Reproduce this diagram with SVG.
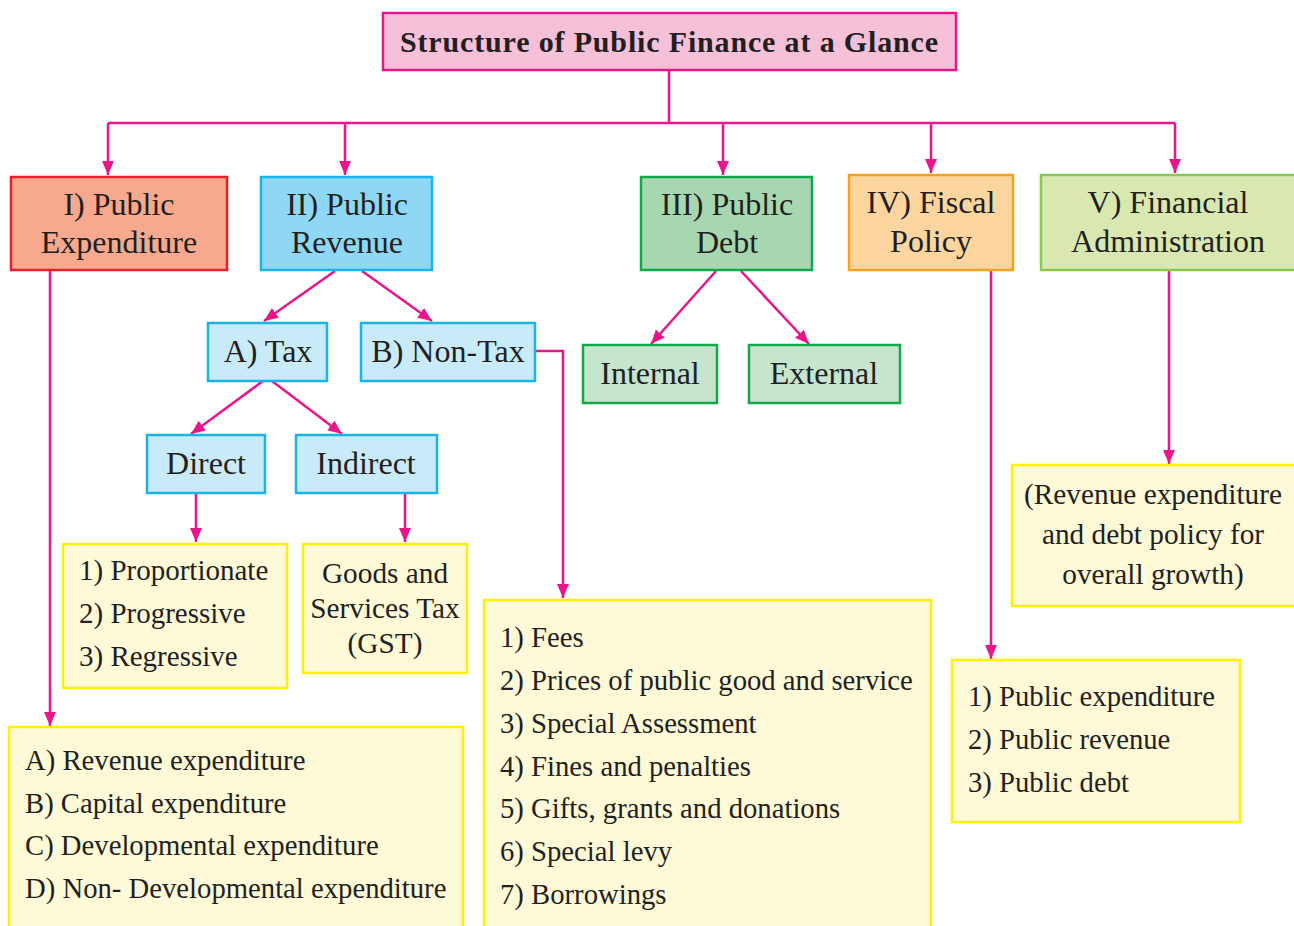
<svg xmlns="http://www.w3.org/2000/svg" width="1294" height="926" viewBox="0 0 1294 926">
<defs>
<marker id="ah" markerUnits="userSpaceOnUse" markerWidth="14" markerHeight="14" refX="14" refY="6" orient="auto">
<path d="M0,0 L14,6 L0,12 z" fill="#e8168a"/>
</marker>
<style>
text{font-family:"Liberation Serif","Times New Roman",serif;fill:#231f20}
.h{font-size:32px;text-anchor:middle}
.l{font-size:28.7px}
.c{font-size:29.3px;text-anchor:middle}
.t{font-size:30px;font-weight:bold;text-anchor:middle}
.conn line,.conn polyline,.conn path{stroke:#e8168a;stroke-width:2.5;fill:none}
.box{stroke-width:2.5}
.y{fill:#fef9d7;stroke:#fff200}
.lb{fill:#c8eaf9;stroke:#19b4ea}
.lg{fill:#c5e5cf;stroke:#12a84a}
</style>
</defs>
<rect width="1294" height="926" fill="#ffffff"/>

<g id="connectors" class="conn">
<line x1="669" y1="70" x2="669" y2="123"/>
<line x1="108" y1="123" x2="1175" y2="123"/>
<line x1="108" y1="123" x2="108" y2="175" marker-end="url(#ah)"/>
<line x1="345" y1="123" x2="345" y2="175" marker-end="url(#ah)"/>
<line x1="723" y1="123" x2="723" y2="175" marker-end="url(#ah)"/>
<line x1="931" y1="123" x2="931" y2="173" marker-end="url(#ah)"/>
<line x1="1175" y1="123" x2="1175" y2="173" marker-end="url(#ah)"/>
<line x1="335" y1="271" x2="264" y2="321" marker-end="url(#ah)"/>
<line x1="362" y1="271" x2="432" y2="321" marker-end="url(#ah)"/>
<line x1="263" y1="381" x2="191" y2="434" marker-end="url(#ah)"/>
<line x1="272" y1="381" x2="342" y2="434" marker-end="url(#ah)"/>
<line x1="716" y1="271" x2="651" y2="344" marker-end="url(#ah)"/>
<line x1="741" y1="271" x2="809" y2="344" marker-end="url(#ah)"/>
<line x1="196" y1="493" x2="196" y2="542" marker-end="url(#ah)"/>
<line x1="405" y1="493" x2="405" y2="542" marker-end="url(#ah)"/>
<polyline points="535,351 563,351 563,598" marker-end="url(#ah)"/>
<line x1="50" y1="270" x2="50" y2="726" marker-end="url(#ah)"/>
<line x1="991" y1="270" x2="991" y2="659" marker-end="url(#ah)"/>
<line x1="1169" y1="270" x2="1169" y2="464" marker-end="url(#ah)"/>
</g>

<g id="title">
<rect class="box" x="383" y="13" width="573" height="57" fill="#f7c0d9" stroke="#e8168a"/>
<text class="t" x="669" y="52" textLength="538">Structure of Public Finance at a Glance</text>
</g>

<g id="expenditure">
<rect class="box" x="11" y="177" width="216" height="93" fill="#f7a98e" stroke="#e8202a"/>
<text class="h" x="119" y="215">I) Public</text>
<text class="h" x="119" y="253">Expenditure</text>
</g>

<g id="revenue">
<rect class="box" x="261" y="177" width="171" height="93" fill="#8ed8f6" stroke="#19b4ea"/>
<text class="h" x="347" y="215">II) Public</text>
<text class="h" x="347" y="253">Revenue</text>
</g>

<g id="debt">
<rect class="box" x="641" y="177" width="171" height="93" fill="#a7d7b0" stroke="#12a84a"/>
<text class="h" x="727" y="215">III) Public</text>
<text class="h" x="727" y="253">Debt</text>
</g>

<g id="fiscal">
<rect class="box" x="849" y="175" width="164" height="95" fill="#fdd59e" stroke="#f7a21b"/>
<text class="h" x="931" y="213">IV) Fiscal</text>
<text class="h" x="931" y="252">Policy</text>
</g>

<g id="admin">
<rect class="box" x="1041" y="175" width="260" height="95" fill="#d9e8b0" stroke="#8cc850"/>
<text class="h" x="1168" y="213">V) Financial</text>
<text class="h" x="1168" y="252">Administration</text>
</g>

<g id="tax">
<rect class="box lb" x="208" y="323" width="119" height="58"/>
<text class="h" x="268" y="362">A) Tax</text>
</g>

<g id="nontax">
<rect class="box lb" x="361" y="323" width="174" height="58"/>
<text class="h" x="448" y="362">B) Non-Tax</text>
</g>

<g id="direct">
<rect class="box lb" x="147" y="435" width="118" height="58"/>
<text class="h" x="206" y="474">Direct</text>
</g>

<g id="indirect">
<rect class="box lb" x="296" y="435" width="141" height="58"/>
<text class="h" x="366" y="474">Indirect</text>
</g>

<g id="internal">
<rect class="box lg" x="583" y="345" width="134" height="58"/>
<text class="h" x="650" y="384">Internal</text>
</g>

<g id="external">
<rect class="box lg" x="749" y="345" width="151" height="58"/>
<text class="h" x="824" y="384">External</text>
</g>

<g id="direct-list">
<rect class="box y" x="63" y="544" width="224" height="144"/>
<text class="l" x="79" y="580" style="font-size:29px">1) Proportionate</text>
<text class="l" x="79" y="623" style="font-size:29px">2) Progressive</text>
<text class="l" x="79" y="666" style="font-size:29px">3) Regressive</text>
</g>

<g id="gst">
<rect class="box y" x="303" y="544" width="164" height="129"/>
<text class="c" x="385" y="583">Goods and</text>
<text class="c" x="385" y="618">Services Tax</text>
<text class="c" x="385" y="653">(GST)</text>
</g>

<g id="nontax-list">
<rect class="box y" x="484" y="600" width="447" height="340"/>
<text class="l" x="500" y="647">1) Fees</text>
<text class="l" x="500" y="690">2) Prices of public good and service</text>
<text class="l" x="500" y="733">3) Special Assessment</text>
<text class="l" x="500" y="776">4) Fines and penalties</text>
<text class="l" x="500" y="818">5) Gifts, grants and donations</text>
<text class="l" x="500" y="861">6) Special levy</text>
<text class="l" x="500" y="904">7) Borrowings</text>
</g>

<g id="expenditure-list">
<rect class="box y" x="9" y="727" width="454" height="220"/>
<text class="l" x="25" y="770">A) Revenue expenditure</text>
<text class="l" x="25" y="813">B) Capital expenditure</text>
<text class="l" x="25" y="855">C) Developmental expenditure</text>
<text class="l" x="25" y="898">D) Non- Developmental expenditure</text>
</g>

<g id="fiscal-list">
<rect class="box y" x="952" y="660" width="288" height="162"/>
<text class="l" x="968" y="706">1) Public expenditure</text>
<text class="l" x="968" y="749">2) Public revenue</text>
<text class="l" x="968" y="792">3) Public debt</text>
</g>

<g id="admin-note">
<rect class="box y" x="1012" y="465" width="290" height="141"/>
<text class="c" x="1153" y="504">(Revenue expenditure</text>
<text class="c" x="1153" y="544">and debt policy for</text>
<text class="c" x="1153" y="584">overall growth)</text>
</g>
</svg>
